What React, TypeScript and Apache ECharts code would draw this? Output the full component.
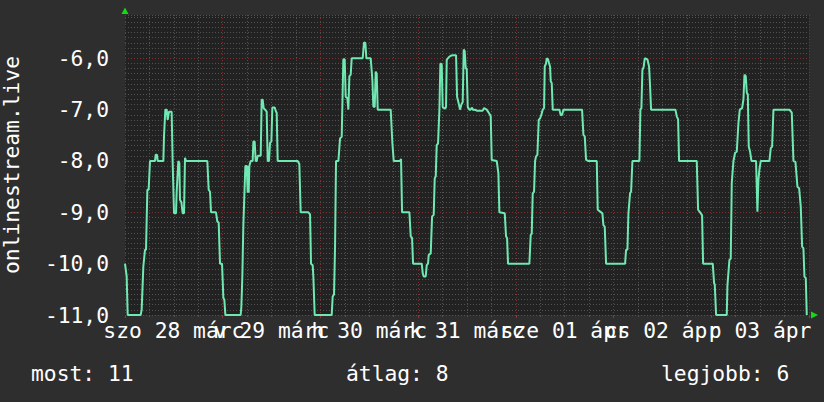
import React, { useEffect, useRef } from "react";
import * as echarts from "echarts";

// x labels (one per day, shown at noon)
const dayLabels = ["szo 28 márc", "v 29 márc", "h 30 márc", "k 31 márc", "sze 01 ápr", "cs 02 ápr", "p 03 ápr"];

// time in hours since start of "szo 28 márc"
const hours = [
  0, 0.16, 0.41, 0.66, 3.85, 4.09, 4.5, 4.91, 5.16, 5.49, 5.81, 6.14, 7.37, 7.53, 7.86, 8.03, 9.42, 9.58, 9.91, 10.24,
  10.48, 10.81, 11.46, 11.71, 12.04, 12.53, 12.69, 13.1, 13.35, 13.51, 13.84, 14.17, 14.49, 14.74, 14.98, 20.22, 20.55,
  20.88, 21.13, 22.35, 22.68, 23.01, 23.34, 23.83, 24.16, 24.4, 24.65, 28.41, 28.58, 28.82, 29.07, 29.56, 29.89, 30.13,
  30.3, 30.38, 30.54, 30.87, 31.36, 31.53, 31.85, 32.1, 32.35, 32.59, 33.33, 33.57, 33.82, 34.06, 34.39, 34.8, 35.05,
  35.37, 35.62, 35.95, 36.19, 36.77, 37.09, 37.26, 37.5, 42.42, 42.82, 43.15,
  45.04, 45.45, 45.69, 46.1, 46.26, 46.59, 50.77, 51.01, 51.34, 51.59, 51.83, 52.41, 52.82, 53.23, 53.63, 53.96, 54.21,
  54.62, 54.86, 55.11, 55.44, 55.68, 58.38, 58.71, 59.04, 59.28, 60.35, 60.76, 61.0, 61.33, 61.58, 61.82, 62.07, 65.26,
  65.67, 66.0, 67.55, 67.8, 68.05, 69.85, 70.18, 70.51, 70.75, 72.88, 73.13, 73.37, 73.86, 74.11, 74.43, 74.6, 75.09,
  75.42, 75.82, 76.07, 76.32, 76.56, 76.89, 77.22, 77.46, 77.79, 78.03, 78.61, 78.85, 79.02, 79.51, 80.0, 80.49, 81.31,
  81.56, 81.88, 82.29, 82.62, 82.95, 83.19, 83.44, 83.68, 83.93, 84.18, 84.59, 84.91, 85.16, 85.57, 85.98, 86.39, 87.86,
  88.19, 88.84, 89.5, 89.83, 90.07, 91.3, 91.71, 91.95, 93.27, 93.59, 93.84, 94.08,
  99.32, 99.65, 99.9, 100.14, 100.47, 100.72, 100.96, 101.29, 101.62, 101.95, 102.27, 102.6, 102.93, 103.09, 103.42,
  103.58, 103.91, 104.16, 104.4, 104.57, 104.81, 105.06, 106.69, 107.02, 107.35, 107.68, 112.26, 112.59, 112.92, 113.25,
  113.74, 115.87, 116.11, 117.26, 117.5, 117.83, 118.16, 122.83, 123.07, 123.4, 123.65, 124.05, 124.3, 124.63, 126.35,
  126.59, 126.84, 127.08, 127.41, 127.66, 128.31, 128.72, 128.97, 129.21, 135.19, 135.52, 135.85, 136.09, 140.43,
  140.76, 141.25, 141.74, 141.99, 144.36, 144.69, 144.85, 145.18, 147.8, 147.96, 148.45, 148.78, 149.03, 149.44, 149.85,
  150.26, 150.67, 151.0, 151.57, 151.9, 152.15, 152.47, 152.72, 152.97, 153.2, 153.53, 153.86, 155.0, 155.33, 155.58,
  155.82, 156.15, 158.28, 158.61, 158.94, 159.27, 163.19, 163.77, 164.18, 164.67, 165.16, 165.57, 165.98, 166.31,
  166.63, 166.88, 167.21, 167.45,
];

// value (negative rank)
const values = [
  -10.0, -10.0, -10.25, -11, -11, -10.9, -10.06, -9.73, -9.73, -8.56, -8.56, -8.0, -8.0, -7.88, -7.88, -8.0, -8.0, -7.52,
  -7.0, -7.0, -7.2, -7.04, -7.04, -8.04, -9.02, -9.02, -8.6, -8.0, -8.04, -8.76, -8.8, -9.02, -9.02, -7.94, -8.0, -8.0,
  -8.56, -8.6, -9.0, -9.0, -9.18, -9.2, -10.0, -10.0, -10.67, -10.7, -11, -11, -10.84, -10.25, -9.25, -8.1, -8.1, -8.62,
  -8.1, -8.62, -8.1, -8.0, -8.0, -7.62, -7.62, -8.0, -8.0, -7.9, -7.9, -6.81, -6.81, -6.97, -7.0, -7.04, -8.0, -8.0,
  -7.65, -7.62, -6.96, -6.96, -7.04, -7.06, -8.0, -8.0, -8.06, -9.0,
  -9.0, -9.04, -10.0, -10.03, -10.25, -11, -11, -10.64, -10.6, -9.67, -8.0, -8.0, -7.56, -7.53, -6.02, -6.02, -6.75,
  -6.78, -7.0, -6.35, -6.32, -6.0, -6.0, -5.69, -5.7, -6.0, -6.0, -6.42, -6.94, -6.95, -6.26, -6.3, -7.0, -7.0, -7.65,
  -8.0, -8.0, -7.96, -9.0, -9.0, -9.47, -9.5, -10.0, -10.0, -10.19, -10.25, -10.25, -10.03, -10.0, -9.83, -9.8, -9.08,
  -9.05, -8.34, -8.3, -7.69, -7.66, -7.0, -6.1, -6.12, -6.95, -6.98, -6.95, -6.03, -5.98, -5.95, -5.94, -5.94, -6.75,
  -6.85, -7.0, -6.9, -6.85, -5.83, -5.86, -6.2, -6.2, -6.95, -7.0, -7.0, -6.96, -7.01, -7.0, -7.02, -7.02, -6.97, -7.0,
  -7.08, -7.13, -7.98, -8.0, -8.24, -9.0, -9.02, -9.47, -9.5, -10.0,
  -10.0, -9.44, -9.42, -8.63, -8.6, -8.0, -7.91, -7.88, -7.2, -7.17, -7.1, -7.0, -6.97, -6.16, -6.1, -6.0, -6.02, -6.1,
  -6.16, -6.45, -6.48, -7.0, -7.0, -7.11, -7.1, -7.0, -7.0, -7.49, -7.52, -7.98, -8.0, -8.0, -8.95, -9.02, -9.25, -9.28,
  -10.0, -10.0, -9.73, -9.73, -9.02, -8.63, -8.6, -8.0, -8.0, -7.0, -6.97, -6.23, -6.16, -6.0, -6.02, -6.16, -6.55, -7.0,
  -7.0, -7.13, -7.19, -8.0, -8.0, -8.95, -9.0, -9.06, -10.0, -10.0, -10.38, -10.4, -11, -11, -10.43, -9.93, -9.9, -8.43,
  -8.0, -7.84, -7.82, -7.26, -7.0, -6.97, -6.8, -6.32, -6.35, -6.67, -6.7, -7.72, -7.82, -8.0, -8.0, -8.99, -8.37, -8.17,
  -8.0, -8.0, -7.75, -7.72, -7.0, -7.0, -7.06, -8.0, -8.02, -8.5, -8.53, -8.89, -9.67, -9.7, -10.25, -10.28, -11,
];

const yTitle = "onlinestream.live";
const legendNames = ["most", "átlag", "legjobb"];
const legendValues = [11, 8, 6];

const Y_MIN = -11;
const Y_MAX = -5.157;
const X_MAX = 168;

const FONT = "DejaVu Sans Mono";
const FS = 21.3;
const GREY = "#525252";
const RED = "#7a3030";

export default function App() {
  const ref = useRef<HTMLDivElement>(null);
  useEffect(() => {
    if (!ref.current) return;
    const chart = echarts.init(ref.current, null, { renderer: "svg" });
    const gridLeft = 125, gridTop = 15, gridW = 684, gridH = 300;
    const legendX = [31, 346, 661];
    const option: any = {
      animation: false,
      backgroundColor: "#2e2e2e",
      grid: {
        left: gridLeft, top: gridTop, width: gridW, height: gridH,
        show: true, backgroundColor: "#222222", borderWidth: 0,
      },
      xAxis: [
        {
          type: "value", min: 0, max: X_MAX, interval: 6,
          axisLine: { show: false },
          axisTick: { show: true, length: 2, lineStyle: { color: GREY } },
          axisLabel: { show: false },
          splitLine: { show: true, lineStyle: { color: GREY, width: 1, type: [1, 2] } },
        },
        {
          type: "value", min: 0, max: X_MAX, interval: 24, position: "bottom",
          axisLine: { show: false },
          axisTick: { show: true, length: 3, lineStyle: { color: "#a03030" } },
          axisLabel: { show: false },
          splitLine: { show: true, lineStyle: { color: RED, width: 1, type: [1, 2] } },
        },
        {
          type: "value", min: 0, max: X_MAX, interval: 12, position: "bottom",
          axisLine: { show: false }, axisTick: { show: false },
          splitLine: { show: false },
          axisLabel: {
            show: true, margin: 5, color: "#ffffff", fontFamily: FONT, fontSize: FS,
            showMinLabel: true, showMaxLabel: true,
            formatter: (v: number) => {
              const r = Math.round(v);
              if (r % 24 === 12) return dayLabels[(r - 12) / 24] ?? "";
              return "";
            },
          },
        },
      ],
      yAxis: [
        {
          type: "value", min: Y_MIN, max: Y_MAX, interval: 0.1,
          axisLine: { show: false },
          axisTick: { show: false },
          splitLine: { show: true, lineStyle: { color: GREY, width: 1, type: [1, 2] } },
          axisLabel: {
            show: true, margin: 16, color: "#ffffff", fontFamily: FONT, fontSize: FS,
            showMinLabel: true, showMaxLabel: false,
            formatter: (v: number) =>
              Math.abs(v - Math.round(v)) < 1e-6 ? Math.round(v).toFixed(1).replace(".", ",") : "",
          },
        },
        {
          type: "value", min: Y_MIN, max: Y_MAX, interval: 1, position: "left",
          axisLine: { show: false }, axisTick: { show: false }, axisLabel: { show: false },
          splitLine: { show: true, showMinLine: false, showMaxLine: false, lineStyle: { color: RED, width: 1, type: [1, 2] } },
        },
      ],
      series: [
        {
          type: "line",
          xAxisIndex: 0, yAxisIndex: 0,
          data: hours.map((h, i) => [h, values[i]]),
          showSymbol: false, symbol: "none",
          clip: true,
          lineStyle: { color: "#6fe8b2", width: 2 },
        },
      ],
      graphic: [
        {
          type: "text", x: 11, y: gridTop + gridH / 2, rotation: Math.PI / 2,
          style: { text: yTitle, fill: "#ffffff", font: `${FS}px '${FONT}'`, align: "center", verticalAlign: "middle" },
        },
        ...legendNames.map((n, i) => ({
          type: "text", x: legendX[i], y: 373.5,
          style: { text: `${n}: ${legendValues[i]}`, fill: "#ffffff", font: `${FS}px '${FONT}'`, align: "left", verticalAlign: "middle" },
        })),
        {
          type: "polygon",
          shape: { points: [[121.5, 14], [125, 7.5], [128.5, 14]] },
          style: { fill: "#11dd11" },
        },
        {
          type: "polygon",
          shape: { points: [[811, 311.5], [818, 315], [811, 318.5]] },
          style: { fill: "#11dd11" },
        },
      ],
    };
    chart.setOption(option);
    return () => chart.dispose();
  }, []);
  return (
    <div
      ref={ref}
      style={{ position: "fixed", left: 0, top: 0, width: 824, height: 402 }}
    />
  );
}
